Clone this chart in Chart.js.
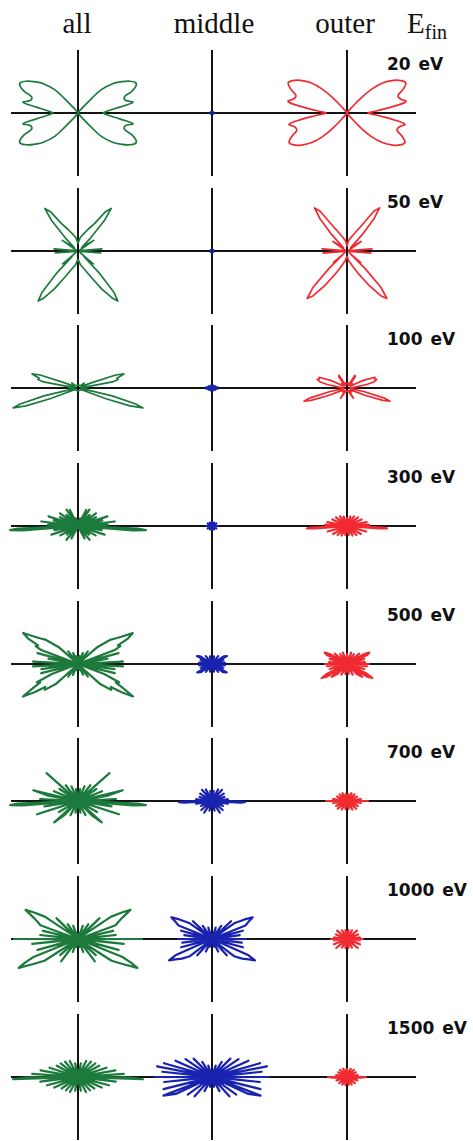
<!DOCTYPE html>
<html>
<head>
<meta charset="utf-8">
<script src="https://cdn.jsdelivr.net/npm/chart.js@4.4.1/dist/chart.umd.min.js"></script>
<style>
  body { margin: 0; background: #fff; }
  #fig { position: relative; width: 473px; height: 1141px; overflow: hidden; }
  #fig canvas { position: absolute; left: 0; }
  .head { position: absolute; top: 9px; font-family: "Liberation Serif", serif; font-size: 29px; line-height: 29px; color: #111; transform: translateX(-50%); white-space: nowrap; }
  .head sub { font-size: 20px; vertical-align: -6px; }
  .energy { position: absolute; left: 387px; font-family: "DejaVu Sans", sans-serif; font-weight: bold; font-size: 17px; line-height: 17px; color: #111; white-space: pre; word-spacing: 2px; }
</style>
</head>
<body>
<div id="fig">
  <div class="head" style="left:77px">all</div>
  <div class="head" style="left:214px">middle</div>
  <div class="head" style="left:345px">outer</div>
  <div class="head" style="left:407px; transform:none">E<sub>fin</sub></div>
</div>
<script>
// final electron energies, one row each
const energies = ['20 eV', '50 eV', '100 eV', '300 eV', '500 eV', '700 eV', '1000 eV', '1500 eV'];

// angular distributions, right half only: [angle in degrees from +x axis, intensity (arb. units)]
// the left half is the mirror image
const all20 = [[-90,0],[-60,1],[-50,6],[-47,18],[-45,33],[-40,46],[-36,53],[-32,60],[-28,65],[-25,64],[-22,58],[-19,49],[-15,49],[-11,56],[-8,42],[-5,32],[-2,27],[0,25],[2,27],[5,32],[8,42],[11,56],[15,49],[19,49],[22,58],[25,64],[28,65],[32,60],[36,53],[40,46],[45,33],[47,18],[50,6],[60,1],[90,0]];
const mid20 = [[-90,1.5],[-45,1.5],[0,2],[45,1.5],[90,1.5]];
const out20 = [[-90,0],[-60,1],[-50,6],[-47,20],[-44,34],[-40,46],[-35,56],[-31,62],[-27,65],[-23,60],[-19,53],[-15,54],[-11,59],[-8,46],[-5,32],[-2,24],[0,21],[2,24],[5,32],[8,46],[11,60],[15,55],[19,54],[23,61],[27,66],[31,63],[35,57],[40,47],[44,34],[47,20],[50,6],[60,1],[90,0]];

const all50 = [[-90,8],[-80,14],[-70,20],[-63,30],[-58,45],[-54,58],[-51.5,64],[-49,55],[-46,30],[-43,8],[-40,20],[-37,3],[-25,2],[-9,3],[-5,23],[-2,3],[0,2],[2,3],[5,24],[9,3],[25,2],[31,4],[34,19],[37,10],[42,5],[46,18],[49,40],[52,54],[55,48],[59,32],[65,24],[72,18],[80,14],[90,8]];
const mid50 = [[-90,1.5],[-45,1.5],[0,2],[45,1.5],[90,1.5]];
const out50 = [[-90,5],[-80,10],[-70,16],[-63,26],[-57,42],[-53,56],[-50,62],[-47,50],[-44,25],[-42,6],[-40,18],[-37,3],[-25,2],[-9,3],[-5,24],[-2,3],[0,2],[2,3],[5,25],[9,3],[25,2],[31,4],[34,17],[37,10],[42,5],[47,22],[50,42],[53,54],[56,48],[60,30],[66,20],[74,14],[82,10],[90,5]];

const all100 = [[-90,3],[-40,3],[-26,4],[-21,30],[-19,55],[-17,68],[-15.5,60],[-13,35],[-11,6],[-5,3],[0,4],[4,10],[6,3],[9,15],[10,35],[12,41],[14,40],[17,48],[19,40],[21,15],[24,4],[38,8],[44,3],[60,3],[90,3]];
const mid100 = [[-90,2.5],[-75,1],[-60,3],[-45,1],[-30,4],[-18,1],[-8,6],[0,2],[8,6],[18,1],[30,4],[45,1],[60,3],[75,1],[90,2.5]];
const out100 = [[-90,4],[-70,3],[-58,12],[-52,3],[-40,6],[-28,4],[-22,20],[-19,38],[-17,45],[-15,38],[-12,18],[-8,4],[0,3],[6,8],[10,20],[13,28],[16,31],[18,29],[21,30],[25,18],[30,4],[40,7],[48,3],[54,14],[58,15],[62,4],[75,5],[90,4]];

const all300 = [[-90,1],[-70,1],[-62,14],[-56,1],[-50,18],[-45,1],[-38,14],[-34,1],[-28,20],[-24,1],[-18,28],[-14,1],[-10,24],[-7,2],[-4.5,55],[-3.5,68],[-2.5,60],[-1,4],[2,30],[4,1],[7,37],[10,1],[13,25],[15,1],[18,31],[21,1],[26,20],[30,1],[35,22],[39,1],[44,16],[48,1],[55,20],[60,1],[63,18],[68,1],[75,8],[90,1]];
const mid300 = [[-90,4],[-75,1],[-60,4],[-45,1],[-30,5],[-15,1],[0,6],[15,1],[30,5],[45,1],[60,4],[75,1],[90,4]];
const out300 = [[-90,1],[-78,9],[-70,1],[-60,11],[-54,1],[-44,13],[-38,1],[-30,16],[-24,1],[-16,20],[-11,1],[-4.5,32],[-3.5,40],[-2.5,35],[-1,2],[3,22],[6,1],[11,20],[16,1],[24,16],[30,1],[38,14],[44,1],[54,12],[60,1],[70,10],[78,1],[90,8]];

const all500 = [[-90,1],[-75,6],[-70,1],[-65,12],[-60,1],[-52,16],[-47,2],[-42,30],[-38,42],[-35,40],[-33,52],[-30.5,64],[-28,50],[-26,42],[-24,45],[-21,28],[-18,2],[-14,38],[-12,2],[-8,37],[-6,2],[-3,45],[0,3],[3,45],[6,2],[10,30],[13,2],[15,42],[18,2],[21,40],[23,46],[25,44],[27,56],[29.5,63],[32,52],[34,46],[37,40],[41,26],[46,2],[52,16],[58,1],[66,12],[72,1],[80,8],[90,1]];
const mid500 = [[-90,1],[-75,8],[-65,1],[-52,10],[-45,1],[-36,14],[-30,17],[-26,2],[-18,12],[-12,1],[-5,13],[0,2],[5,13],[12,1],[18,12],[24,2],[28,17],[33,14],[42,1],[52,10],[62,1],[75,8],[90,1]];
const out500 = [[-90,1],[-80,10],[-72,1],[-62,12],[-55,1],[-46,14],[-40,20],[-36,2],[-32,24],[-29,29],[-26,22],[-22,2],[-16,18],[-12,1],[-6,20],[-2,2],[0,22],[2,2],[6,18],[11,1],[16,18],[20,2],[24,22],[27,25],[30,20],[34,2],[40,16],[46,1],[55,12],[62,1],[70,12],[78,1],[90,10]];

const all700 = [[-90,1],[-78,12],[-72,1],[-62,16],[-56,1],[-46,20],[-42,32],[-38,1],[-30,22],[-26,1],[-18,43],[-14,1],[-9,34],[-6,2],[-4.5,55],[-3.5,68],[-2.5,60],[-1,3],[3,38],[6,1],[10,30],[13.5,46],[16,1],[22,26],[27,1],[33,22],[37,1],[41.5,42],[45,1],[52,20],[58,1],[66,16],[72,1],[80,12],[90,1]];
const mid700 = [[-90,1],[-75,10],[-68,1],[-56,14],[-50,1],[-40,14],[-34,1],[-24,12],[-18,1],[-10,16],[-6,1],[-3.5,28],[-2,33],[-0.5,26],[1,2],[6,16],[10,1],[18,13],[24,1],[32,14],[38,1],[48,15],[54,1],[62,13],[70,1],[80,10],[90,1]];
const out700 = [[-90,1],[-78,8],[-70,1],[-58,10],[-50,1],[-40,12],[-34,1],[-25,12],[-18,1],[-8,14],[-3,1],[0,21],[3,1],[8,14],[15,1],[24,11],[32,1],[42,10],[50,1],[60,9],[70,1],[80,7],[90,1]];

const all1000 = [[-90,1],[-78,8],[-72,1],[-68,14],[-62,1],[-53,28],[-48,2],[-42,24],[-38,2],[-33,40],[-29,52],[-26,66],[-24,58],[-22,48],[-19,2],[-15,42],[-12,2],[-6,46],[-3,2],[0,64],[2,3],[6,38],[9,2],[13,36],[16,2],[20,40],[23,44],[26,50],[29,60],[31,52],[34,40],[38,3],[44,30],[48,2],[55,18],[62,1],[70,14],[80,1],[90,5]];
const mid1000 = [[-90,1],[-75,8],[-70,1],[-64,14],[-58,1],[-48,22],[-44,2],[-38,28],[-33,36],[-29,42],[-26.5,48],[-24,40],[-20,2],[-15,32],[-12,2],[-7,30],[-4,2],[0,34],[4,2],[8,28],[11,2],[15,32],[19,2],[22,36],[25,40],[28,46],[31,38],[35,28],[39,2],[43,26],[47,2],[55,16],[62,1],[72,12],[80,1],[90,5]];
const out1000 = [[-90,1],[-80,9],[-72,1],[-60,10],[-52,1],[-40,14],[-33,1],[-22,14],[-15,1],[-6,13],[-2,1],[0,16],[2,1],[6,13],[13,1],[22,12],[30,1],[40,13],[48,1],[60,10],[70,1],[80,9],[90,1]];

const all1500 = [[-90,1],[-78,14],[-72,1],[-62,17],[-56,1],[-48,18],[-42,1],[-35,20],[-30,1],[-24,26],[-20,1],[-15,32],[-11,1],[-7,38],[-4,2],[-2,65],[-0.5,50],[1,2],[4,46],[7,1],[10,38],[14,1],[18,30],[22,1],[28,24],[32,1],[38,22],[43,1],[50,20],[56,1],[63,18],[70,1],[78,14],[90,1]];
const mid1500 = [[-90,1],[-78,10],[-70,1],[-62,16],[-56,1],[-48,26],[-43,1],[-36,30],[-31,1],[-25,40],[-21,52],[-18,2],[-14,50],[-10,2],[-6,48],[-3,2],[0,57],[3,2],[6,50],[9,2],[11,56],[14,2],[16,50],[19,2],[24,40],[29,1],[34,32],[39,1],[45,26],[50,1],[57,18],[63,1],[72,12],[80,1],[90,6]];
const out1500 = [[-90,1],[-78,8],[-70,1],[-58,9],[-50,1],[-38,10],[-30,1],[-18,11],[-10,1],[-3,14],[0,19],[3,1],[10,11],[18,1],[28,10],[36,1],[46,10],[54,1],[65,9],[75,1],[85,8],[90,1]];

const allSeries = [all20, all50, all100, all300, all500, all700, all1000, all1500];
const middleSeries = [mid20, mid50, mid100, mid300, mid500, mid700, mid1000, mid1500];
const outerSeries = [out20, out50, out100, out300, out500, out700, out1000, out1500];

// layout
const rowCenters = [113, 251, 388, 526, 664, 801, 939, 1077];
const colX = [0, 134, 269];   // panel origins on the shared x scale (1 unit = 1 px)
const GREEN = '#1c7a3c', BLUE = '#1a22b0', RED = '#f02a30';

function polarToXY(pairs, x0) {
  const rad = Math.PI / 180;
  const right = pairs.map(([a, r]) => ({ x: x0 + r * Math.cos(a * rad), y: r * Math.sin(a * rad) }));
  const left = pairs.slice().reverse().map(([a, r]) => ({ x: x0 - r * Math.cos(a * rad), y: r * Math.sin(a * rad) }));
  return right.concat(left);
}

function axisLine(extra) {
  return Object.assign({
    type: 'linear',
    grid: { display: true, color: 'rgba(0,0,0,0)', drawTicks: false },
    ticks: { display: false },
    border: { display: true, color: '#151515', width: 2 }
  }, extra);
}

const fig = document.getElementById('fig');

energies.forEach((label, i) => {
  const lab = document.createElement('div');
  lab.className = 'energy';
  lab.textContent = label;
  lab.style.top = (rowCenters[i] - 57) + 'px';
  fig.appendChild(lab);

  const canvas = document.createElement('canvas');
  canvas.width = 473;
  canvas.height = 140;
  canvas.style.top = (rowCenters[i] - 70) + 'px';
  fig.appendChild(canvas);

  // the high-energy rows are dense spiky stars, drawn a little heavier
  const line = (pairs, x0, color) => ({
    data: polarToXY(pairs, x0),
    showLine: true,
    borderColor: color,
    borderWidth: i >= 3 ? 2.2 : 1.7,
    borderJoinStyle: 'round',
    pointRadius: 0,
    tension: i === 0 ? 0.4 : 0,
    fill: false,
    clip: false
  });

  new Chart(canvas, {
    type: 'scatter',
    data: {
      datasets: [
        line(allSeries[i], colX[0], GREEN),
        line(middleSeries[i], colX[1], BLUE),
        line(outerSeries[i], colX[2], RED)
      ]
    },
    options: {
      responsive: false,
      animation: false,
      devicePixelRatio: 1,
      layout: { padding: { left: 12, right: 58, top: 8, bottom: 8 } },
      scales: {
        x: axisLine({ min: -66, max: 337, position: { y: 0 } }),
        y: axisLine({ min: -62, max: 62, position: { x: colX[0] } }),
        y2: axisLine({ axis: 'y', min: -62, max: 62, position: { x: colX[1] } }),
        y3: axisLine({ axis: 'y', min: -62, max: 62, position: { x: colX[2] } })
      },
      plugins: {
        legend: { display: false },
        tooltip: { enabled: false },
        title: { display: false }
      }
    }
  });
});
</script>
</body>
</html>
